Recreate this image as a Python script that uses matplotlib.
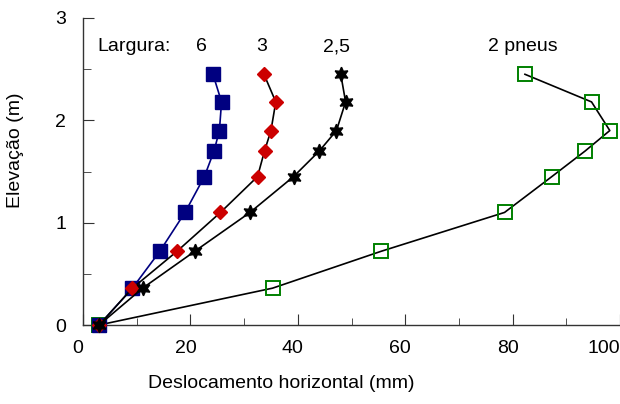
import matplotlib
matplotlib.use("Agg")
import matplotlib.pyplot as plt
import matplotlib.transforms as mtransforms
from matplotlib.ticker import MultipleLocator

plt.rcParams['font.family'] = ['Liberation Sans', 'DejaVu Sans']

# elevation levels (m)
elev = [0, 0.36, 0.72, 1.1, 1.45, 1.7, 1.9, 2.18, 2.45]

# horizontal displacement (mm) per width
disp_6 = [3, 9.2, 14.3, 19.0, 22.6, 24.4, 25.4, 25.8, 24.2]
disp_3 = [3, 9.2, 17.5, 25.6, 32.5, 33.8, 35.0, 35.9, 33.7]
disp_25 = [3, 11.1, 20.8, 31.1, 39.2, 44.0, 47.2, 48.9, 48.0]
disp_pneus = [3, 35.3, 55.5, 78.5, 87.3, 93.5, 98.1, 94.7, 82.3]

labels = ["Largura:", "6", "3", "2,5", "2 pneus"]
label_x = [2.6, 22.0, 33.3, 47.2, 81.9]

fs = 14

fig = plt.figure(figsize=(6.2, 4.04), dpi=100)
ax = fig.add_axes([83 / 620, 1 - 325 / 404, 1 - 83 / 620, (325 - 18) / 404])

ax.plot(disp_pneus, elev, color='black', lw=1.2, marker='s', ms=9.5,
        mfc='none', mec='#008000', mew=1.4, clip_on=False, zorder=3)
ax.plot(disp_6, elev, color='#000080', lw=1.2, marker='s', ms=9.5,
        mfc='#000080', mec='#000080', clip_on=False, zorder=4)
ax.plot(disp_3, elev, color='black', lw=1.2, marker='D', ms=7,
        mfc='#cc0000', mec='#cc0000', clip_on=False, zorder=5)
ax.plot(disp_25, elev, color='black', lw=1.2, marker=(6, 1, 0), ms=10.5,
        mfc='black', mec='black', clip_on=False, zorder=6)

for i, t in enumerate(labels):
    ax.text(label_x[i], 2.72, t, fontsize=fs,
            ha='left' if i == 0 else 'center', va='center')

ax.set_xlim(0, 100)
ax.set_ylim(0, 3)
ax.xaxis.set_major_locator(MultipleLocator(20))
ax.xaxis.set_minor_locator(MultipleLocator(10))
ax.yaxis.set_major_locator(MultipleLocator(1))
ax.yaxis.set_minor_locator(MultipleLocator(0.5))

for s in ['top', 'right']:
    ax.spines[s].set_visible(False)
for s in ['left', 'bottom']:
    ax.spines[s].set_color('#333333')
    ax.spines[s].set_linewidth(1.0)

ax.tick_params(which='both', direction='in', color='#333333', labelsize=fs)
ax.tick_params(axis='x', which='major', length=8, pad=11)
ax.tick_params(axis='x', which='minor', length=5)
ax.tick_params(axis='y', which='major', length=8, pad=12)
ax.tick_params(axis='y', which='minor', length=6)

ax.set_xticks([0, 20, 40, 60, 80, 100])
shift = mtransforms.ScaledTranslation(-5 / 100, 0, fig.dpi_scale_trans)
xt = ax.get_xticklabels()
for lab in xt[:-1]:
    lab.set_transform(lab.get_transform() + shift)
xt[-1].set_ha('right')

fig.text(281 / 620, 1 - 384 / 404, "Deslocamento horizontal (mm)",
         fontsize=fs, ha='center', va='center')
fig.text(16 / 620, 1 - 150 / 404, "Elevação (m)", fontsize=fs,
         rotation=90, ha='center', va='center')

fig.savefig("out.png", dpi=100)
